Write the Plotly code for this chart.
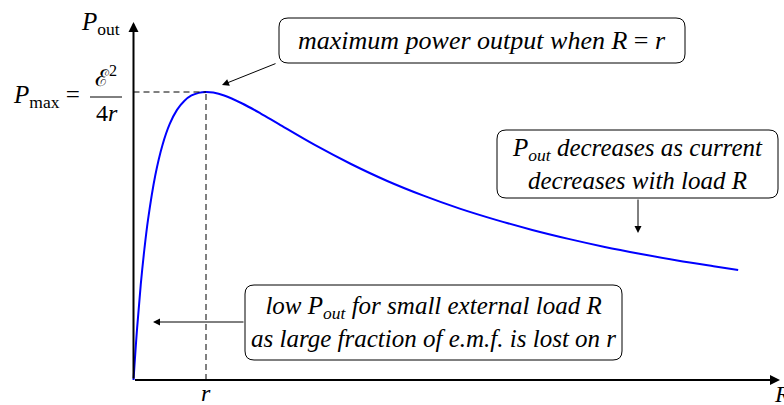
import plotly.graph_objects as go

# load resistance in units of r, output power in units of P_max
load_R = [0, 0.05, 0.1, 0.15, 0.2, 0.3, 0.4, 0.5, 0.6, 0.7, 0.8, 0.9, 1.0,
          1.1, 1.25, 1.5, 1.75, 2, 2.5, 3, 3.5, 4, 4.5, 5, 5.5, 6, 6.5, 7,
          7.5, 8, 8.34]
p_out = [0, 0.181, 0.331, 0.454, 0.556, 0.710, 0.816, 0.889, 0.938, 0.969,
         0.988, 0.997, 1.0, 0.998, 0.988, 0.960, 0.926, 0.889, 0.816, 0.750,
         0.691, 0.640, 0.595, 0.556, 0.521, 0.490, 0.462, 0.4375, 0.415,
         0.395, 0.382]
r_tick = 1.0
p_max = 1.0

W, H = 784, 405
FONT = "Liberation Serif"

# pixel -> paper helpers (margins are zero)
def px(x):
    return x / W

def py(y):
    return 1 - y / H

def rounded_box(x0, y0, x1, y1, rad=9):
    pts = [
        f"M {px(x0 + rad)},{py(y0)}",
        f"L {px(x1 - rad)},{py(y0)}",
        f"Q {px(x1)},{py(y0)} {px(x1)},{py(y0 + rad)}",
        f"L {px(x1)},{py(y1 - rad)}",
        f"Q {px(x1)},{py(y1)} {px(x1 - rad)},{py(y1)}",
        f"L {px(x0 + rad)},{py(y1)}",
        f"Q {px(x0)},{py(y1)} {px(x0)},{py(y1 - rad)}",
        f"L {px(x0)},{py(y0 + rad)}",
        f"Q {px(x0)},{py(y0)} {px(x0 + rad)},{py(y0)}",
        "Z",
    ]
    return dict(type="path", xref="paper", yref="paper", path=" ".join(pts),
                line=dict(color="black", width=1), fillcolor="white", layer="below")

def text(x, y, s, size=25, xanchor="center", yanchor="middle"):
    return dict(x=px(x), y=py(y), xref="paper", yref="paper", text=s,
                showarrow=False, xanchor=xanchor, yanchor=yanchor,
                font=dict(family=FONT, size=size, color="black"))

def arrow(x_tail, y_tail, x_tip, y_tip, width=1):
    return dict(x=px(x_tip), y=py(y_tip), xref="paper", yref="paper",
                ax=x_tail - x_tip, ay=y_tail - y_tip, text="", showarrow=True,
                arrowhead=2, arrowsize=1.4, arrowwidth=width, arrowcolor="black",
                standoff=0, startstandoff=0)

# axis mapping: origin at pixel (133.5, 380), r -> 72.5 px, P_max -> 288 px
x0_px, y0_px, sx, sy = 133.5, 380, 72.5, 288
x_range = [-x0_px / sx, (W - x0_px) / sx]
y_range = [-(H - y0_px) / sy, y0_px / sy]

fig = go.Figure()

fig.add_trace(go.Scatter(
    x=load_R, y=p_out, mode="lines", line=dict(color="#0000ff", width=2),
    line_shape="spline", hoverinfo="skip",
))

shapes = [
    dict(type="line", xref="x", yref="y", x0=0, x1=r_tick, y0=p_max, y1=p_max,
         line=dict(color="black", width=1, dash="6px,4px")),
    dict(type="line", xref="x", yref="y", x0=r_tick, x1=r_tick, y0=0, y1=p_max,
         line=dict(color="black", width=1, dash="6px,4px")),
    # fraction bar of E^2 / 4r
    dict(type="line", xref="paper", yref="paper", x0=px(90), x1=px(122),
         y0=py(97), y1=py(97), line=dict(color="black", width=1)),
    rounded_box(279, 18, 685, 63),
    rounded_box(497, 130, 778, 198),
    rounded_box(245, 285, 622, 360),
]

annotations = [
    # axes
    dict(x=0, y=(y0_px - 22) / sy, xref="x", yref="y", ax=0, ay=0, axref="x",
         ayref="y", text="", showarrow=True, arrowhead=2, arrowsize=1,
         arrowwidth=2, arrowcolor="black", standoff=0),
    dict(x=(780 - x0_px) / sx, y=0, xref="x", yref="y", ax=0, ay=0, axref="x",
         ayref="y", text="", showarrow=True, arrowhead=2, arrowsize=1,
         arrowwidth=2, arrowcolor="black", standoff=0),
    text(100, 24, "<i>P</i><sub>out</sub>", size=25),
    text(82, 97, "<i>P</i><sub>max</sub> =", size=25, xanchor="right"),
    text(106, 77, "ℰ<sup>2</sup>", size=23),
    text(107, 113, "4<i>r</i>", size=24),
    text(206, 393, "<i>r</i>", size=24),
    text(772, 379, "<i>R</i>", size=24, xanchor="left", yanchor="top"),
    # callouts
    text(482, 40, "<i>maximum power output when R</i> = <i>r</i>", size=26),
    text(637, 164, "<i>P<sub>out</sub> decreases as current</i><br>"
                   "<i>decreases with load R</i>"),
    text(433, 322, "<i>low P<sub>out</sub> for small external load R</i><br>"
                   "<i>as large fraction of e.m.f. is lost on r</i>"),
    arrow(277, 63, 222, 85),
    arrow(638, 198, 638, 233),
    arrow(245, 322, 153, 322),
]

fig.update_layout(
    width=W, height=H,
    margin=dict(l=0, r=0, t=0, b=0),
    paper_bgcolor="white", plot_bgcolor="white",
    showlegend=False,
    shapes=shapes,
    annotations=annotations,
    xaxis=dict(range=x_range, visible=False, fixedrange=True),
    yaxis=dict(range=y_range, visible=False, fixedrange=True),
)

# page body has a default 8px margin; drop it so pixels line up
fig.write_html("out.html",
               config={"displayModeBar": False},
               post_script="document.body.style.margin='0';"
                           "document.body.style.overflow='hidden';")
